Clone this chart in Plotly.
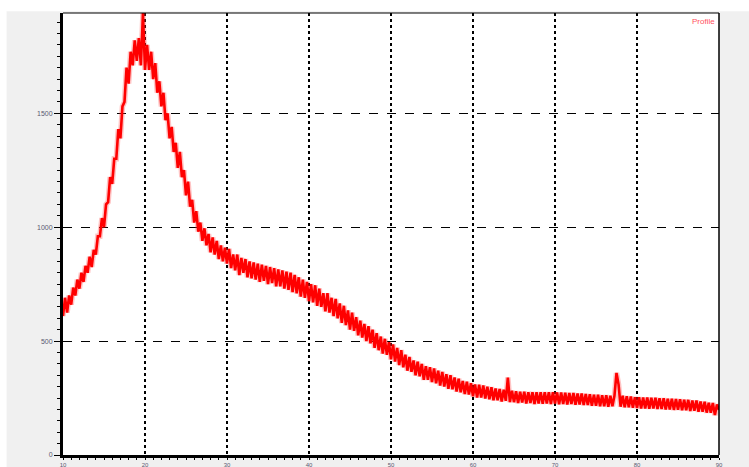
import plotly.graph_objects as go

# 2-theta (degrees), step 0.25 from 10 to 90
two_theta_start = 10.0
two_theta_step = 0.25

intensity = [
    610, 690, 625, 700,
    660, 735, 700, 770,
    730, 800, 760, 830,
    800, 870, 825, 900,
    880, 960, 960, 1040,
    1000, 1100, 1110, 1220,
    1190, 1300, 1300, 1430,
    1390, 1530, 1550, 1700,
    1630, 1770, 1710, 1820,
    1730, 1830, 1710, 1940,
    1690, 1800, 1690, 1770,
    1650, 1720, 1590, 1640,
    1530, 1590, 1470, 1500,
    1390, 1440, 1330, 1370,
    1260, 1330, 1220, 1250,
    1140, 1200, 1090, 1120,
    1020, 1070, 980, 1020,
    940, 995, 920, 970,
    890, 955, 880, 940,
    860, 920, 850, 910,
    840, 905, 820, 880,
    810, 880, 790, 865,
    800, 860, 780, 850,
    775, 845, 770, 840,
    760, 835, 765, 830,
    750, 825, 755, 820,
    740, 815, 740, 810,
    730, 805, 725, 800,
    715, 790, 710, 780,
    695, 770, 690, 760,
    675, 750, 670, 745,
    655, 730, 650, 710,
    630, 710, 625, 690,
    610, 685, 600, 665,
    580, 655, 570, 635,
    550, 625, 545, 605,
    525, 590, 515, 575,
    500, 565, 490, 550,
    470, 535, 460, 520,
    445, 510, 440, 495,
    420, 485, 410, 470,
    395, 460, 385, 440,
    370, 430, 365, 415,
    350, 410, 345, 400,
    330, 390, 330, 385,
    320, 380, 315, 370,
    305, 365, 300, 355,
    290, 350, 288, 340,
    278, 335, 275, 325,
    268, 322, 265, 315,
    258, 310, 252, 308,
    252, 305, 248, 300,
    245, 298, 240, 292,
    240, 290, 235, 286,
    238, 340, 232, 282,
    232, 280, 228, 278,
    230, 278, 226, 276,
    228, 276, 224, 275,
    226, 276, 225, 275,
    226, 276, 224, 276,
    226, 275, 223, 274,
    224, 273, 222, 272,
    224, 272, 221, 270,
    222, 270, 219, 268,
    219, 267, 216, 265,
    216, 264, 214, 262,
    214, 262, 212, 260,
    214, 260, 360, 310,
    212, 260, 210, 258,
    209, 257, 207, 254,
    206, 254, 204, 252,
    204, 252, 203, 251,
    204, 251, 202, 249,
    202, 249, 200, 247,
    200, 247, 198, 246,
    199, 245, 196, 243,
    196, 242, 193, 239,
    194, 239, 190, 235,
    190, 234, 186, 229,
    186, 228, 175, 222,
    198,
]

two_theta = [two_theta_start + i * two_theta_step for i in range(len(intensity))]

x_ticks = [10, 20, 30, 40, 50, 60, 70, 80, 90]
y_ticks = [0, 500, 1000, 1500]

fig = go.Figure()
# soft halo under the trace (anti-aliased look of the original)
fig.add_trace(go.Scatter(
    x=two_theta, y=intensity, mode="lines", name="Profile halo",
    line=dict(color="rgba(255,60,60,0.3)", width=5.5), showlegend=False, hoverinfo="skip",
))
fig.add_trace(go.Scatter(
    x=two_theta, y=intensity, mode="lines", name="Profile",
    line=dict(color="#ff0000", width=2.6), showlegend=False,
))

tickfont_x = dict(family="Liberation Sans, Arial, sans-serif", size=6, color="#5a5a70")
tickfont_y = dict(family="Liberation Sans, Arial, sans-serif", size=7, color="#5a5a70")

fig.update_xaxes(
    range=[10, 90], tickvals=x_ticks, ticktext=[str(v) for v in x_ticks],
    showline=True, linecolor="black", linewidth=3,
    ticks="outside", ticklen=2, tickcolor="black", tickwidth=1,
    minor=dict(dtick=1, ticks="outside", ticklen=2, tickcolor="black", showgrid=False),
    showgrid=True, gridcolor="black", gridwidth=2, griddash="dot",
    zeroline=False, tickfont=tickfont_x,
)
fig.update_yaxes(
    range=[0, 1940], tickvals=y_ticks, ticktext=[str(v) for v in y_ticks],
    showline=True, linecolor="black", linewidth=3,
    ticks="outside", ticklen=6, tickcolor="black", tickwidth=1,
    minor=dict(dtick=50, ticks="outside", ticklen=3, tickcolor="black", showgrid=False),
    showgrid=True, gridcolor="black", gridwidth=1, griddash="dash",
    zeroline=False, tickfont=tickfont_y,
)

fig.update_layout(
    width=749, height=467,
    margin=dict(l=63, r=30, t=13, b=12, autoexpand=False),
    paper_bgcolor="#f0f0f0", plot_bgcolor="white",
    shapes=[
        dict(type="rect", xref="paper", yref="paper", x0=-0.2, x1=1.2, y0=1.004, y1=1.1,
             fillcolor="white", line=dict(width=0), layer="below"),
        dict(type="rect", xref="paper", yref="paper", x0=-0.2, x1=-0.086, y0=-0.1, y1=1.1,
             fillcolor="white", line=dict(width=0), layer="below"),
        dict(type="line", xref="paper", yref="paper", x0=0, x1=1, y0=1, y1=1,
             line=dict(color="black", width=1)),
        dict(type="line", xref="paper", yref="paper", x0=1, x1=1, y0=0, y1=1,
             line=dict(color="black", width=1.5)),
    ],
    annotations=[
        dict(text="Profile", xref="paper", yref="paper", x=0.997, y=0.995,
             xanchor="right", yanchor="top", showarrow=False,
             font=dict(family="Liberation Sans, Arial, sans-serif", size=8, color="#ff5060")),
    ],
)

fig.write_html("out.html", config={"displayModeBar": False},
               post_script="document.body.style.margin='0';")
